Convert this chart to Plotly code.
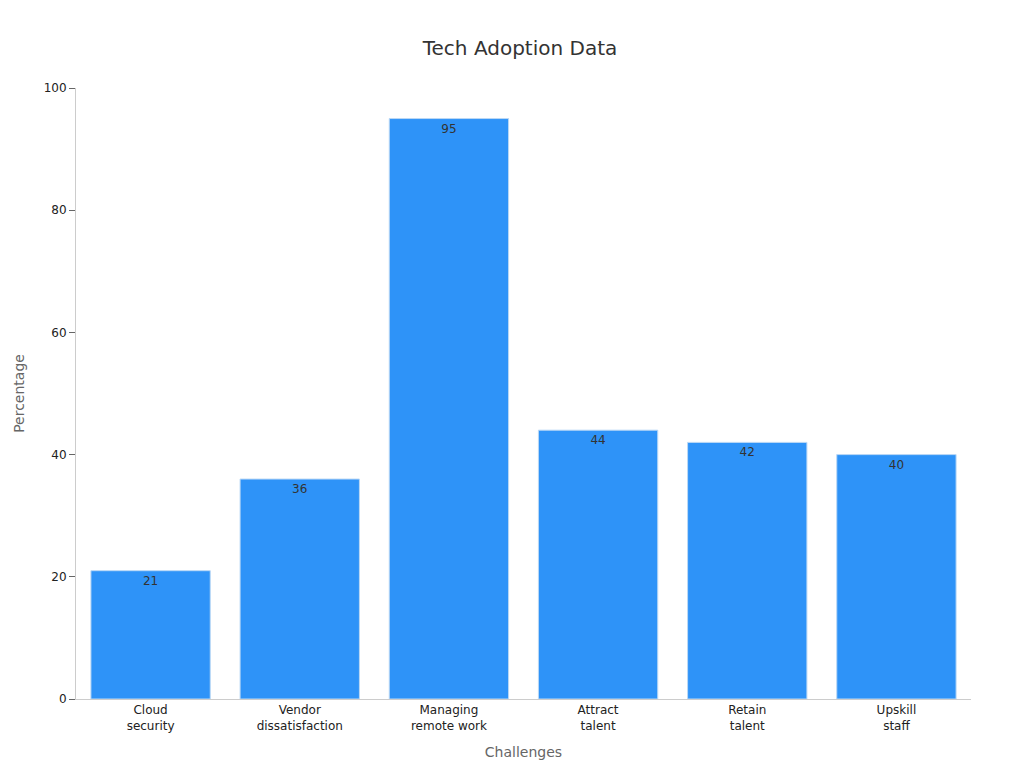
import plotly.graph_objects as go

categories = ["Cloud<br>security", "Vendor<br>dissatisfaction", "Managing<br>remote work",
              "Attract<br>talent", "Retain<br>talent", "Upskill<br>staff"]
values = [21, 36, 95, 44, 42, 40]

fig = go.Figure(go.Bar(
    x=categories, y=values, text=values, textposition="inside",
    insidetextanchor="end", textfont=dict(size=12, color="#333333"),
    marker=dict(color="#2E93F8", line=dict(color="#BBD8F5", width=1)),
    width=0.8,
))
fig.update_layout(
    width=1024, height=768,
    font=dict(family="DejaVu Sans", size=12, color="#222222"),
    title=dict(text="Tech Adoption Data", x=0.5, y=0.957, xanchor="center",
               font=dict(size=20, color="#333333")),
    plot_bgcolor="white", paper_bgcolor="white",
    margin=dict(l=68, r=61, t=80, b=77),
    showlegend=False,
    xaxis=dict(title=dict(text="Challenges", font=dict(size=14, color="#666666")),
               showline=True, linecolor="#CCCCCC", ticks="", tickfont=dict(size=12)),
    yaxis=dict(title=dict(text="Percentage", font=dict(size=14, color="#666666")),
               range=[0, 100], dtick=20, showgrid=False, zeroline=False,
               showline=True, linecolor="#CCCCCC", ticks="outside", ticklen=6,
               tickcolor="#666666", tickfont=dict(size=12)),
)
fig.write_html("out.html")
